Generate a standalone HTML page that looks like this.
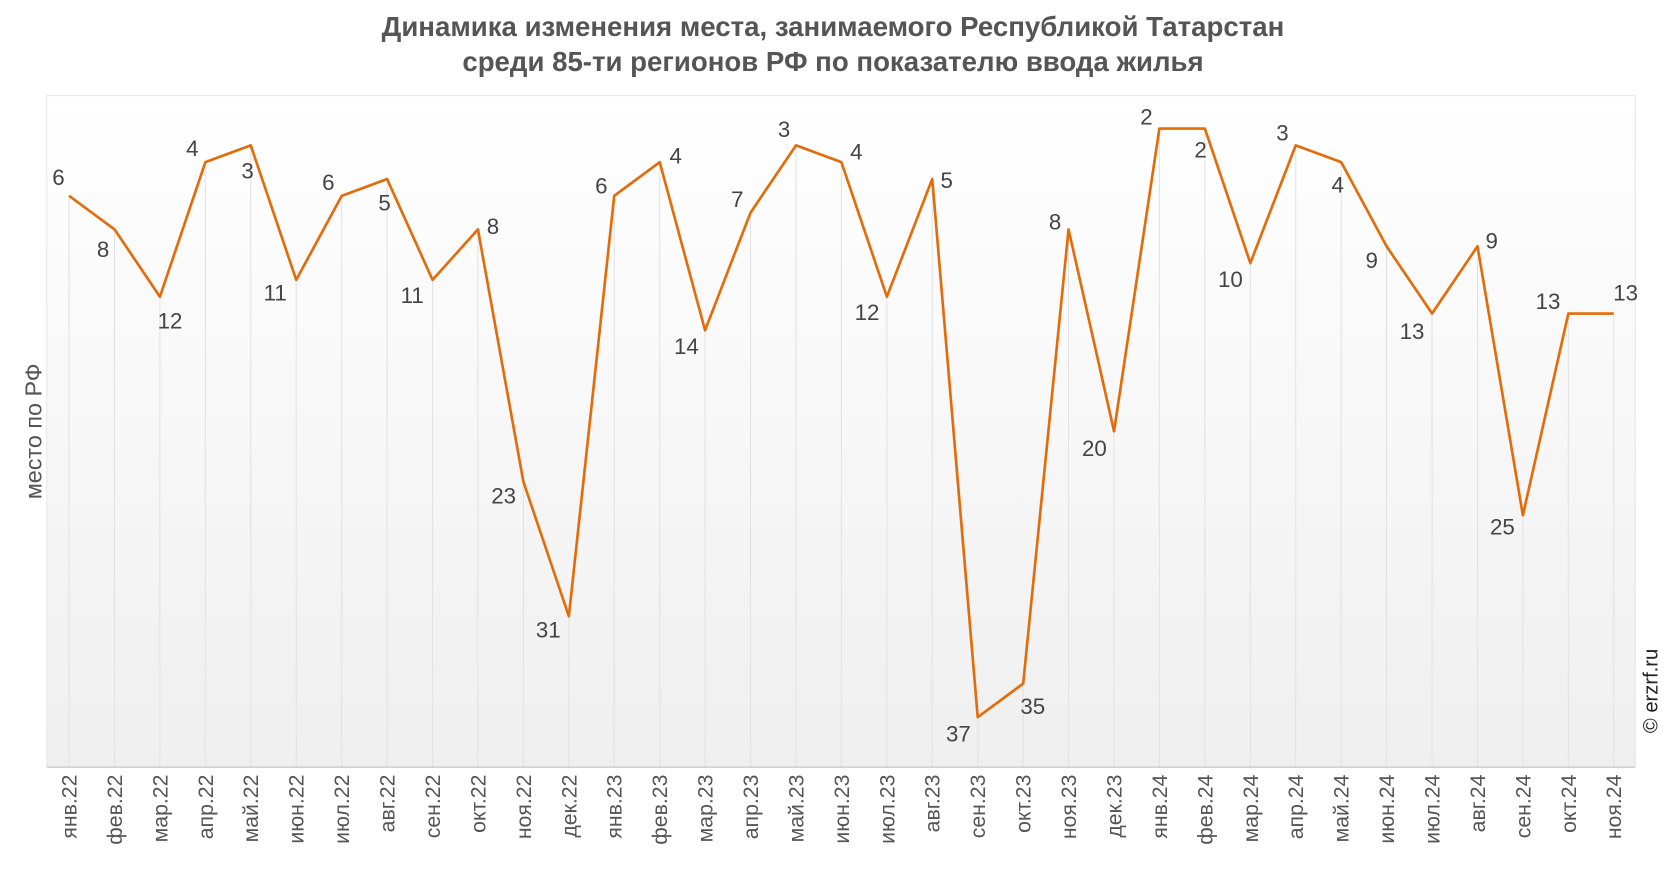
<!DOCTYPE html>
<html><head><meta charset="utf-8"><style>
body{margin:0;background:#fff;}
svg{display:block;font-family:"Liberation Sans",sans-serif;}
</style></head><body>
<svg width="1666" height="872" viewBox="0 0 1568 820.7" preserveAspectRatio="none" xmlns="http://www.w3.org/2000/svg">
<defs><linearGradient id="bg" x1="0" y1="0" x2="0" y2="1"><stop offset="0" stop-color="#ffffff"/><stop offset="1" stop-color="#efefef"/></linearGradient></defs>
<text x="784" y="34" text-anchor="middle" font-size="26" font-weight="bold" fill="#555">Динамика изменения места, занимаемого Республикой Татарстан</text>
<text x="784" y="67" text-anchor="middle" font-size="26" font-weight="bold" fill="#555">среди 85-ти регионов РФ по показателю ввода жилья</text>
<rect x="44" y="90" width="1495" height="632" fill="url(#bg)" stroke="#e6e6e6"/>
<g stroke="#e2e2e2" stroke-width="1">
<line x1="65" y1="184" x2="65" y2="722"/><line x1="107.8" y1="216" x2="107.8" y2="722"/><line x1="150.5" y1="279" x2="150.5" y2="722"/><line x1="193.3" y1="153" x2="193.3" y2="722"/><line x1="236" y1="137" x2="236" y2="722"/><line x1="278.8" y1="263" x2="278.8" y2="722"/><line x1="321.6" y1="184" x2="321.6" y2="722"/><line x1="364.3" y1="168" x2="364.3" y2="722"/><line x1="407.1" y1="263" x2="407.1" y2="722"/><line x1="449.8" y1="216" x2="449.8" y2="722"/><line x1="492.6" y1="453" x2="492.6" y2="722"/><line x1="535.4" y1="580" x2="535.4" y2="722"/><line x1="578.1" y1="184" x2="578.1" y2="722"/><line x1="620.9" y1="153" x2="620.9" y2="722"/><line x1="663.6" y1="311" x2="663.6" y2="722"/><line x1="706.4" y1="200" x2="706.4" y2="722"/><line x1="749.2" y1="137" x2="749.2" y2="722"/><line x1="791.9" y1="153" x2="791.9" y2="722"/><line x1="834.7" y1="279" x2="834.7" y2="722"/><line x1="877.4" y1="168" x2="877.4" y2="722"/><line x1="920.2" y1="675" x2="920.2" y2="722"/><line x1="963" y1="643" x2="963" y2="722"/><line x1="1005.7" y1="216" x2="1005.7" y2="722"/><line x1="1048.5" y1="406" x2="1048.5" y2="722"/><line x1="1091.2" y1="121" x2="1091.2" y2="722"/><line x1="1134" y1="121" x2="1134" y2="722"/><line x1="1176.8" y1="248" x2="1176.8" y2="722"/><line x1="1219.5" y1="137" x2="1219.5" y2="722"/><line x1="1262.3" y1="153" x2="1262.3" y2="722"/><line x1="1305" y1="232" x2="1305" y2="722"/><line x1="1347.8" y1="295" x2="1347.8" y2="722"/><line x1="1390.6" y1="232" x2="1390.6" y2="722"/><line x1="1433.3" y1="485" x2="1433.3" y2="722"/><line x1="1476.1" y1="295" x2="1476.1" y2="722"/><line x1="1518.8" y1="295" x2="1518.8" y2="722"/>
</g>
<line x1="44" y1="722" x2="1539" y2="722" stroke="#bbb"/>
<polyline fill="none" stroke="#e36c0a" stroke-width="2.5" stroke-linejoin="round" points="65,184.3 107.8,215.9 150.5,279.3 193.3,152.6 236,136.8 278.8,263.4 321.6,184.3 364.3,168.5 407.1,263.4 449.8,215.9 492.6,453.4 535.4,580 578.1,184.3 620.9,152.6 663.6,310.9 706.4,200.1 749.2,136.8 791.9,152.6 834.7,279.3 877.4,168.5 920.2,675 963,643.4 1005.7,215.9 1048.5,405.9 1091.2,121 1134,121 1176.8,247.6 1219.5,136.8 1262.3,152.6 1305,231.8 1347.8,295.1 1390.6,231.8 1433.3,485 1476.1,295.1 1518.8,295.1"/>
<g font-size="21" fill="#444" text-anchor="middle">
<text x="55" y="174">6</text><text x="97" y="242">8</text><text x="160" y="309">12</text><text x="181" y="147">4</text><text x="233" y="168">3</text><text x="259" y="283">11</text><text x="309" y="179">6</text><text x="362" y="198">5</text><text x="388" y="285">11</text><text x="464" y="220">8</text><text x="474" y="474">23</text><text x="516" y="600">31</text><text x="566" y="182">6</text><text x="636" y="154">4</text><text x="646" y="333">14</text><text x="694" y="195">7</text><text x="738" y="129">3</text><text x="806" y="150">4</text><text x="816" y="301">12</text><text x="891" y="177">5</text><text x="902" y="698">37</text><text x="972" y="672">35</text><text x="993" y="216">8</text><text x="1030" y="429">20</text><text x="1079" y="117">2</text><text x="1130" y="148">2</text><text x="1158" y="270">10</text><text x="1207" y="132">3</text><text x="1259" y="181">4</text><text x="1291" y="252">9</text><text x="1329" y="319">13</text><text x="1404" y="234">9</text><text x="1414" y="503">25</text><text x="1457" y="291">13</text><text x="1530" y="283">13</text>
</g>
<g font-size="20" fill="#555" text-anchor="end">
<text transform="translate(72,729) rotate(-90)">янв.22</text><text transform="translate(114.8,729) rotate(-90)">фев.22</text><text transform="translate(157.5,729) rotate(-90)">мар.22</text><text transform="translate(200.3,729) rotate(-90)">апр.22</text><text transform="translate(243,729) rotate(-90)">май.22</text><text transform="translate(285.8,729) rotate(-90)">июн.22</text><text transform="translate(328.6,729) rotate(-90)">июл.22</text><text transform="translate(371.3,729) rotate(-90)">авг.22</text><text transform="translate(414.1,729) rotate(-90)">сен.22</text><text transform="translate(456.8,729) rotate(-90)">окт.22</text><text transform="translate(499.6,729) rotate(-90)">ноя.22</text><text transform="translate(542.4,729) rotate(-90)">дек.22</text><text transform="translate(585.1,729) rotate(-90)">янв.23</text><text transform="translate(627.9,729) rotate(-90)">фев.23</text><text transform="translate(670.6,729) rotate(-90)">мар.23</text><text transform="translate(713.4,729) rotate(-90)">апр.23</text><text transform="translate(756.2,729) rotate(-90)">май.23</text><text transform="translate(798.9,729) rotate(-90)">июн.23</text><text transform="translate(841.7,729) rotate(-90)">июл.23</text><text transform="translate(884.4,729) rotate(-90)">авг.23</text><text transform="translate(927.2,729) rotate(-90)">сен.23</text><text transform="translate(970,729) rotate(-90)">окт.23</text><text transform="translate(1012.7,729) rotate(-90)">ноя.23</text><text transform="translate(1055.5,729) rotate(-90)">дек.23</text><text transform="translate(1098.2,729) rotate(-90)">янв.24</text><text transform="translate(1141,729) rotate(-90)">фев.24</text><text transform="translate(1183.8,729) rotate(-90)">мар.24</text><text transform="translate(1226.5,729) rotate(-90)">апр.24</text><text transform="translate(1269.3,729) rotate(-90)">май.24</text><text transform="translate(1312,729) rotate(-90)">июн.24</text><text transform="translate(1354.8,729) rotate(-90)">июл.24</text><text transform="translate(1397.6,729) rotate(-90)">авг.24</text><text transform="translate(1440.3,729) rotate(-90)">сен.24</text><text transform="translate(1483.1,729) rotate(-90)">окт.24</text><text transform="translate(1525.8,729) rotate(-90)">ноя.24</text>
</g>
<text transform="translate(39,406) rotate(-90)" text-anchor="middle" font-size="22" fill="#555">место по РФ</text>
<text transform="translate(1560,690) rotate(-90)" font-size="19" fill="#222">© erzrf.ru</text>
</svg>
</body></html>
